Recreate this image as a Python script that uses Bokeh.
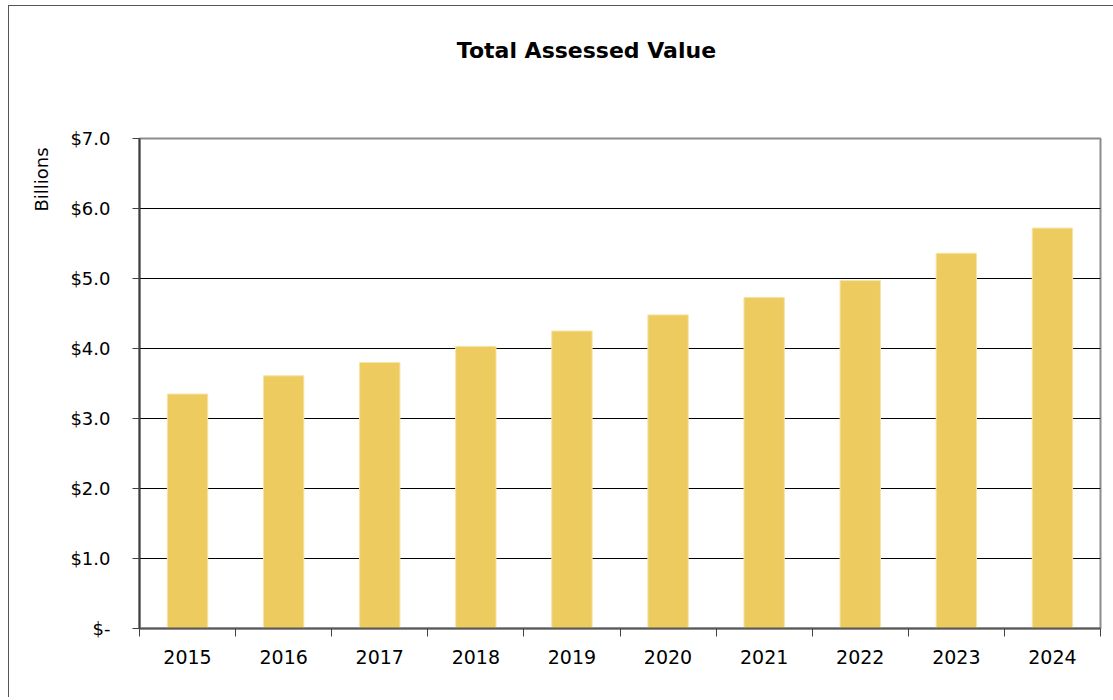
import numpy as np
from bokeh.plotting import figure
from bokeh.models import FixedTicker, LinearAxis, Range1d, ColumnDataSource
from bokeh.embed import file_html
from bokeh.resources import INLINE

years = ["2015", "2016", "2017", "2018", "2019", "2020", "2021", "2022", "2023", "2024"]
values = [3.35, 3.61, 3.80, 4.03, 4.25, 4.48, 4.73, 4.97, 5.36, 5.72]
y_ticks = [0, 1, 2, 3, 4, 5, 6, 7]
y_labels = ["$-", "$1.0", "$2.0", "$3.0", "$4.0", "$5.0", "$6.0", "$7.0"]
title_text = "Total Assessed Value"
y_title = "Billions"

FONT = "DejaVu Sans"

x_pos = [i + 0.5 for i in range(len(years))]
src = ColumnDataSource(dict(x=x_pos, top=values, year=years))

p = figure(width=1105, height=692, output_backend="svg", toolbar_location=None,
           x_range=Range1d(0, len(years)), y_range=Range1d(0, 7),
           min_border_left=130, min_border_right=14, min_border_top=132,
           min_border_bottom=70)
p.styles = {"border-left": "1px solid #555555", "border-top": "1px solid #555555",
            "margin-left": "8px", "margin-top": "5px"}

p.vbar(x="x", top="top", width=0.42, bottom=0, source=src,
       fill_color="#EDCB5F", line_color="#F6E3A6", line_width=1)

# Outline / frame
p.outline_line_color = "#8C8C8C"
p.outline_line_width = 2

# Grid
p.xgrid.grid_line_color = None
p.ygrid.ticker = FixedTicker(ticks=y_ticks)
p.ygrid.grid_line_color = "#000000"
p.ygrid.grid_line_width = 1

yax = p.yaxis[0]
xax = p.xaxis[0]

# Y axis
yax.ticker = FixedTicker(ticks=y_ticks)
yax.major_label_overrides = {t: l for t, l in zip(y_ticks, y_labels)}
yax.major_label_text_font = FONT
yax.major_label_text_font_size = "18px"
yax.major_label_text_color = "#000000"
yax.major_tick_out = 7
yax.major_tick_in = 0
yax.minor_tick_line_color = None
yax.major_label_standoff = 22
yax.axis_line_color = "#404040"
yax.axis_line_width = 2
yax.major_tick_line_color = "#404040"

# X axis: labels at category centres, ticks at boundaries
xax.ticker = FixedTicker(ticks=x_pos, minor_ticks=list(range(len(years) + 1)))
xax.major_label_overrides = {x: y for x, y in zip(x_pos, years)}
xax.major_tick_out = 0
xax.major_tick_in = 0
xax.minor_tick_out = 8
xax.minor_tick_in = 0
xax.minor_tick_line_color = "#404040"
xax.minor_tick_line_width = 1
xax.major_label_text_font = FONT
xax.major_label_text_font_size = "19px"
xax.major_label_text_color = "#000000"
xax.major_label_standoff = 13
xax.axis_line_color = "#595959"
xax.axis_line_width = 2

# Chart title, drawn as the single label of a bare axis above the frame
title_pos = 4.651
ax_t = LinearAxis(ticker=FixedTicker(ticks=[title_pos], minor_ticks=[]),
                  major_label_overrides={title_pos: title_text},
                  axis_line_color=None, major_tick_line_color=None,
                  minor_tick_line_color=None, major_tick_out=0, major_tick_in=0,
                  minor_tick_out=0, minor_tick_in=0,
                  major_label_standoff=76, major_label_text_font=FONT,
                  major_label_text_font_size="22px",
                  major_label_text_font_style="bold",
                  major_label_text_color="#000000")
p.add_layout(ax_t, "above")

# "Billions" label, drawn as the single label of a bare axis on the left
ylab_pos = 6.414
ax_b = LinearAxis(ticker=FixedTicker(ticks=[ylab_pos], minor_ticks=[]),
                  major_label_overrides={ylab_pos: y_title},
                  major_label_orientation="vertical",
                  axis_line_color=None, major_tick_line_color=None,
                  minor_tick_line_color=None, major_tick_out=0, major_tick_in=0,
                  minor_tick_out=0, minor_tick_in=0,
                  major_label_standoff=15, major_label_text_font=FONT,
                  major_label_text_font_size="18px",
                  major_label_text_color="#000000")
p.add_layout(ax_b, "left")

open("out.html", "w").write(file_html(p, INLINE))
